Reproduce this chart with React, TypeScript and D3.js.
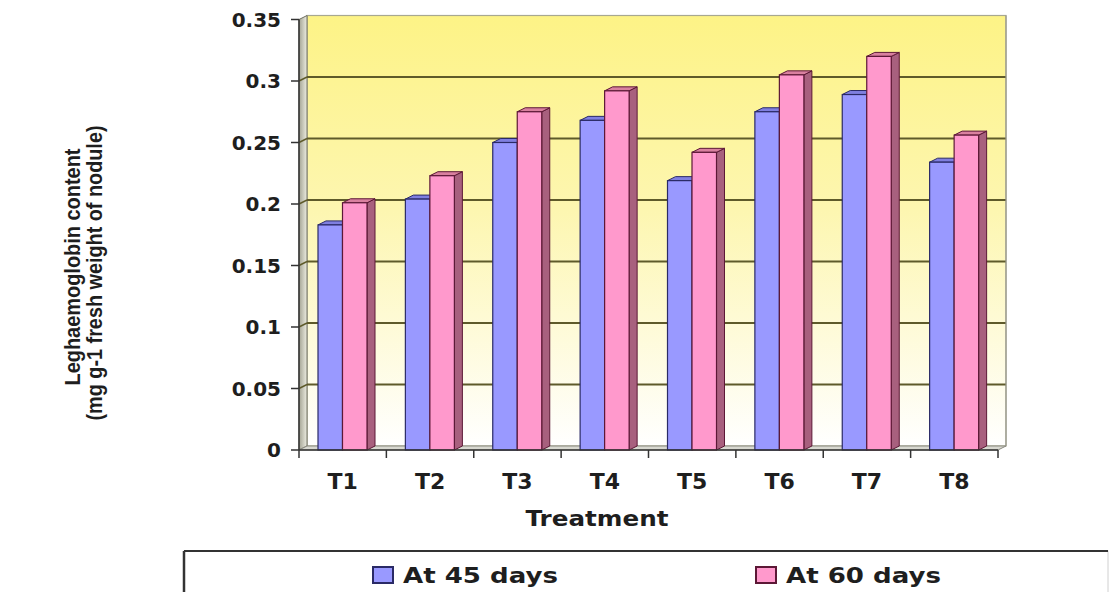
import React from "react";
import * as d3 from "d3";

const categories = ["T1", "T2", "T3", "T4", "T5", "T6", "T7", "T8"];
const seriesNames = ["At 45 days", "At 60 days"];
const days45 = [0.183, 0.204, 0.25, 0.268, 0.219, 0.275, 0.289, 0.234];
const days60 = [0.201, 0.223, 0.275, 0.292, 0.242, 0.305, 0.32, 0.256];
const yTicks = [0, 0.05, 0.1, 0.15, 0.2, 0.25, 0.3, 0.35];
const yTickLabels = ["0", "0.05", "0.1", "0.15", "0.2", "0.25", "0.3", "0.35"];
const xTitle = "Treatment";
const yTitle1 = "Leghaemoglobin content";
const yTitle2 = "(mg g-1 fresh weight of nodule)";

const W = 1114;
const H = 592;
const X0 = 299;
const X1 = 998;
const DX = 8;
const DY = 4;

const colors = [
  { front: "#9999ff", top: "#7f7fe0", side: "#6a6ab8", stroke: "#2a2a66" },
  { front: "#ff99cc", top: "#d9809f", side: "#a8607e", stroke: "#5c1836" },
];

export default function App() {
  const y = d3.scaleLinear().domain([0, 0.35]).range([450, 450 - 0.35 * 1230]);
  const x = d3.scaleBand<string>().domain(categories).range([X0, X1]).paddingInner(0).paddingOuter(0);
  const inner = d3.scaleBand<string>().domain(seriesNames).range([19, 68]).padding(0);
  const bw = inner.bandwidth();
  const data = [days45, days60];
  const font = "'DejaVu Sans', Verdana, sans-serif";
  const txt = "#1e1e1e";

  return (
    <svg width={W} height={H} style={{ position: "absolute", left: 0, top: 0, background: "#fff" }}>
      <defs>
        <linearGradient id="wall" x1="0" y1="0" x2="0" y2="1">
          <stop offset="0" stopColor="#fdf386" />
          <stop offset="0.45" stopColor="#fdf6b0" />
          <stop offset="1" stopColor="#ffffff" />
        </linearGradient>
        <linearGradient id="lwall" x1="0" y1="0" x2="1" y2="0">
          <stop offset="0" stopColor="#a4a494" />
          <stop offset="1" stopColor="#ecece0" />
        </linearGradient>
      </defs>
      <rect x={X0 + DX} y={y(0.35) - DY} width={X1 - X0} height={y(0) - y(0.35)} fill="url(#wall)" stroke="#a8a890" strokeWidth={1.2} />
      <polygon
        points={`${X0},${y(0.35)} ${X0 + DX},${y(0.35) - DY} ${X0 + DX},${y(0) - DY} ${X0},${y(0)}`}
        fill="url(#lwall)"
        stroke="#6e6e60"
        strokeWidth={1}
      />
      <polygon
        points={`${X0},${y(0)} ${X0 + DX},${y(0) - DY} ${X1 + DX},${y(0) - DY} ${X1},${y(0)}`}
        fill="#d8d8d0"
        stroke="#8a8a80"
        strokeWidth={1}
      />
      {yTicks.filter((t) => t > 0 && t < 0.35).map((t) => (
        <g key={t}>
          <line x1={X0 + DX} x2={X1 + DX} y1={y(t) - DY} y2={y(t) - DY} stroke="#5e5a2a" strokeWidth={2} />
          <line x1={X0} x2={X0 + DX} y1={y(t)} y2={y(t) - DY} stroke="#5e5a2a" strokeWidth={1.5} />
        </g>
      ))}
      {categories.map((c, ci) =>
        data.map((arr, si) => {
          const v = arr[ci];
          const bx = (x(c) as number) + (inner(seriesNames[si]) as number);
          const yt = y(v);
          const yb = y(0);
          const col = colors[si];
          return (
            <g key={c + si}>
              <polygon
                points={`${bx + bw},${yt} ${bx + bw + DX},${yt - DY} ${bx + bw + DX},${yb - DY} ${bx + bw},${yb}`}
                fill={col.side}
                stroke={col.stroke}
                strokeWidth={1}
              />
              <polygon
                points={`${bx},${yt} ${bx + bw},${yt} ${bx + bw + DX},${yt - DY} ${bx + DX},${yt - DY}`}
                fill={col.top}
                stroke={col.stroke}
                strokeWidth={1}
              />
              <rect x={bx} y={yt} width={bw} height={yb - yt} fill={col.front} stroke={col.stroke} strokeWidth={1.2} />
            </g>
          );
        })
      )}
      <line x1={X1 + DX} x2={X1 + DX} y1={y(0.35) - DY} y2={y(0) - DY} stroke="#9a9a90" strokeWidth={1.2} />
      <line x1={X0} x2={X0} y1={y(0.35)} y2={y(0)} stroke="#333" strokeWidth={1.5} />
      {yTicks.map((t, i) => (
        <g key={"yt" + t}>
          <line x1={X0 - 8} x2={X0} y1={y(t)} y2={y(t)} stroke="#333" strokeWidth={1.5} />
          <text x={281} y={y(t) + 7} textAnchor="end" fontFamily={font} fontWeight="bold" fontSize={20} fill={txt}>
            {yTickLabels[i]}
          </text>
        </g>
      ))}
      <line x1={X0} x2={X1} y1={y(0)} y2={y(0)} stroke="#333" strokeWidth={1.5} />
      {categories.concat(["end"]).map((c, i) => {
        const tx = X0 + i * x.step();
        return <line key={"xt" + i} x1={tx} x2={tx} y1={y(0)} y2={y(0) + 8} stroke="#333" strokeWidth={1.5} />;
      })}
      {categories.map((c) => (
        <text
          key={"xl" + c}
          x={(x(c) as number) + x.bandwidth() / 2}
          y={489}
          textAnchor="middle"
          fontFamily={font}
          fontWeight="bold"
          fontSize={22}
          fill={txt}
        >
          {c}
        </text>
      ))}
      <text x={597} y={526} textAnchor="middle" fontFamily={font} fontWeight="bold" fontSize={21} fill={txt} textLength={143} lengthAdjust="spacingAndGlyphs">
        {xTitle}
      </text>
      <text
        transform={`translate(80,267) rotate(-90)`}
        textAnchor="middle"
        fontFamily="'Liberation Sans', Arial, sans-serif"
        fontWeight="bold"
        fontSize={22}
        fill={txt}
        textLength={237}
        lengthAdjust="spacingAndGlyphs"
      >
        {yTitle1}
      </text>
      <text
        transform={`translate(102,273) rotate(-90)`}
        textAnchor="middle"
        fontFamily="'Liberation Sans', Arial, sans-serif"
        fontWeight="bold"
        fontSize={22}
        fill={txt}
        textLength={295}
        lengthAdjust="spacingAndGlyphs"
      >
        {yTitle2}
      </text>
      <rect x={184} y={551} width={924} height={60} fill="#fff" stroke="#d0d0d0" strokeWidth={1} />
      <line x1={184} x2={1108} y1={551} y2={551} stroke="#333" strokeWidth={2} />
      <line x1={184} x2={184} y1={551} y2={592} stroke="#333" strokeWidth={2.5} />
      {seriesNames.map((s, i) => {
        const lx = [373, 756][i];
        return (
          <g key={"lg" + s}>
            <rect x={lx} y={567} width={20} height={16} fill={colors[i].front} stroke={colors[i].stroke} strokeWidth={2} />
            <text x={lx + 30} y={583} fontFamily={font} fontWeight="bold" fontSize={22} fill={txt} textLength={155} lengthAdjust="spacingAndGlyphs">
              {s}
            </text>
          </g>
        );
      })}
    </svg>
  );
}
